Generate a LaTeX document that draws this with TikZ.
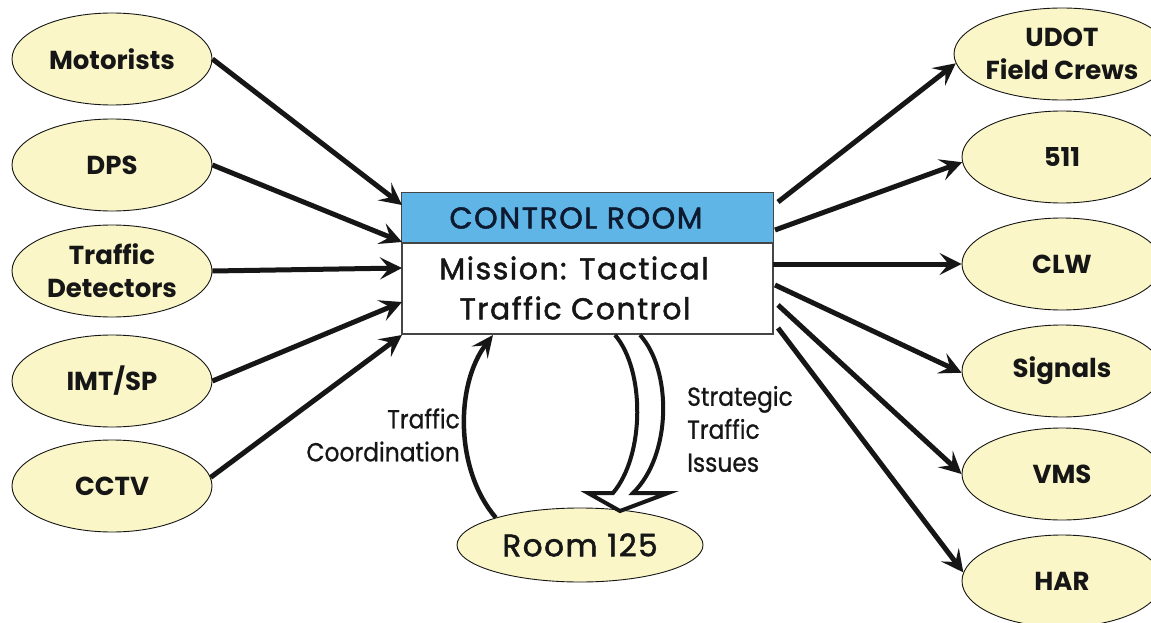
\documentclass[tikz,border=0pt]{standalone}
\usepackage{fontspec}
\setmainfont{Poppins}
\newfontfamily\medfont{Poppins}[FakeBold=1.6,LetterSpace=5]
\newfontfamily\narrowfont{Poppins}[FakeStretch=0.9,FakeBold=0.8]
\usetikzlibrary{arrows.meta,shapes.geometric}

\definecolor{pale}{HTML}{FAF6C8}
\definecolor{hdrblue}{HTML}{5FB6E6}
\definecolor{ink}{HTML}{161616}
\definecolor{navy}{HTML}{0E1A30}

\tikzset{
  oval/.style={ellipse, draw=ink, line width=0.9pt, fill=pale,
    minimum width=200pt, minimum height=92pt, inner sep=0pt,
    align=center, text=ink, font=\fontsize{26}{33}\selectfont\bfseries},
  flow/.style={draw=ink, line width=5pt,
    -{Stealth[length=22pt,width=22pt,inset=9pt]}},
  boxtext/.style={text=ink, font=\medfont\fontsize{30}{36}\selectfont},
  sidelabel/.style={text=ink, inner sep=0pt,
    font=\narrowfont\fontsize{26}{33}\selectfont},
}

\begin{document}
\begin{tikzpicture}[x=1pt,y=-1pt]
  \useasboundingbox[fill=white] (0,0) rectangle (1151,623);

  % central control room box
  \node[draw=ink!80, line width=1.2pt, minimum width=371pt,
        minimum height=141pt, inner sep=0pt] (box) at (587.5,263.5) {};
  \fill[hdrblue] (box.north west) rectangle (773,243);
  \draw[ink!80, line width=1.2pt] (box.north west) rectangle (box.south east);
  \draw[ink!80, line width=1.2pt] (402,243) -- (773,243);
  \node[boxtext, text=navy] (title) at (576,218) {CONTROL ROOM};
  \node[boxtext] (mission) at (574,268) {Mission: Tactical};
  \node[boxtext] (tactic) at (575,308) {Traffic Control};

  % sources
  \node[oval] (mot) at (112,59)  {Motorists};
  \node[oval] (dps) at (112,165) {DPS};
  \node[oval] (det) at (112,271) {Traffic\\Detectors};
  \node[oval] (imt) at (112,381) {IMT/SP};
  \node[oval] (cctv) at (112,486) {CCTV};

  % destinations
  \node[oval] (udot) at (1062,54)  {UDOT\\Field Crews};
  \node[oval] (n511) at (1062,157) {511};
  \node[oval] (clw)  at (1062,264) {CLW};
  \node[oval] (sig)  at (1062,371) {Signals};
  \node[oval] (vms)  at (1062,474) {VMS};
  \node[oval] (har)  at (1062,581) {HAR};

  \node[oval, minimum width=246pt, minimum height=74pt,
        font=\medfont\fontsize{31}{34}\selectfont] (room) at (580,545) {Room 125};

  % entry points on the left side of the box
  \coordinate (l1) at (402,205);
  \coordinate (l2) at (402,242);
  \coordinate (l3) at (402,268);
  \coordinate (l4) at (402,302);
  \coordinate (l5) at (402,335);
  % exit points on the right side of the box
  \coordinate (r1) at (778,202);
  \coordinate (r2) at (775,230);
  \coordinate (r3) at (773,264);
  \coordinate (r4) at (775,285);
  \coordinate (r5) at (778,305);
  \coordinate (r6) at (778,328);
  % bottom of the box
  \coordinate (tc) at (493,335);

  \draw[flow] (mot.east) -- (l1);
  \draw[flow] (dps.east) -- (l2);
  \draw[flow] (det.east) -- (l3);
  \draw[flow] (imt.east) -- (l4);
  \draw[flow] (cctv.5) -- (l5);

  \draw[flow] (r1) -- (udot.185);
  \draw[flow] (r2) -- (n511.183);
  \draw[flow] (r3) -- (clw.west);
  \draw[flow] (r4) -- (sig.181);
  \draw[flow] (r5) -- (vms.west);
  \draw[flow] (r6) -- (har.175);

  % coordination loop from Room 125 back up to the box
  \draw[draw=ink, line width=4.5pt,
        -{Stealth[length=22pt,width=20pt,inset=9pt]}]
    (room.162) .. controls (455,470) and (455,385) .. (tc);

  % hollow arrow for strategic issues
  \fill[white]
    (615,335) .. controls (645,370) and (645,455) .. (613,493)
    -- (588,493) -- (620,511) -- (668,493) -- (633,493)
    .. controls (672,455) and (672,370) .. (640,335) -- cycle;
  \draw[ink, line width=4pt, line join=miter]
    (615,335) .. controls (645,370) and (645,455) .. (613,493)
    -- (588,493) -- (620,511) -- (668,493) -- (633,493)
    .. controls (672,455) and (672,370) .. (640,335);

  \node[sidelabel, anchor=east, align=right] (coord) at (460,435)
    {Traffic\\Coordination};
  \node[sidelabel, anchor=west, align=left] (strat) at (687,429)
    {Strategic\\Traffic\\Issues};
\end{tikzpicture}
\end{document}
